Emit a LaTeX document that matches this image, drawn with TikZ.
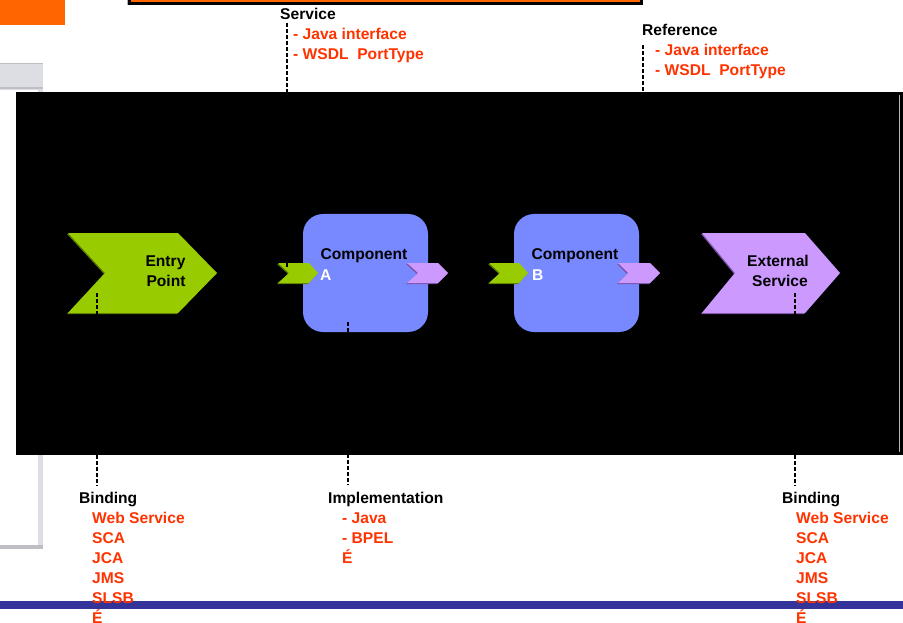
\documentclass[tikz,border=0pt]{standalone}
\usepackage{fontspec}
\setmainfont{Liberation Sans}
\definecolor{slideorange}{RGB}{255,102,0}
\definecolor{entrygreen}{RGB}{153,204,0}
\definecolor{entryshade}{RGB}{90,120,0}
\definecolor{refpurple}{RGB}{204,153,255}
\definecolor{refshade}{RGB}{120,80,160}
\definecolor{compblue}{RGB}{120,137,255}
\definecolor{itemred}{RGB}{255,51,0}
\definecolor{barblue}{RGB}{51,51,153}
\definecolor{panelgray}{RGB}{221,221,228}
\definecolor{paneledge}{RGB}{190,190,196}
\tikzset{
  lbl/.style={font=\fontsize{15.6}{18}\selectfont\bfseries, inner sep=0pt, anchor=base west},
  item/.style={lbl, text=itemred},
  ctr/.style={font=\fontsize{15.6}{18}\selectfont\bfseries, inner sep=0pt, anchor=base},
  dashline/.style={draw=black, line width=1.8pt, dash pattern=on 4pt off 2pt},
  compbox/.style={fill=compblue, rounded corners=20pt, minimum width=125pt, minimum height=118pt, inner sep=0pt},
}
\begin{document}
\begin{tikzpicture}[x=1pt,y=-1pt]
\useasboundingbox (0,0) rectangle (903,623);
\fill[white] (0,0) rectangle (903,623);

% slide furniture
\fill[slideorange] (0,0) rectangle (65,25);
\fill[slideorange] (129,-5) rectangle (641,2);
\draw[black, line width=3pt] (129.5,-10) -- (129.5,3.5) -- (641.5,3.5) -- (641.5,-10);
\draw[gray!60, line width=0.8pt] (127.5,-10) -- (127.5,5);

% side panel
\fill[panelgray] (0,63) rectangle (43,90);
\draw[paneledge, line width=1pt] (0,63.5) -- (43,63.5);
\draw[paneledge, line width=2pt] (0,88.5) -- (43,88.5);
\fill[panelgray] (38,90) rectangle (43,549);
\fill[paneledge] (0,545) rectangle (43,549);

% dark stage
\fill[black] (16,92) rectangle (903,455);
\draw[gray!55, line width=1pt] (899.5,95) -- (899.5,452);

% entry point
\fill[entryshade, shift={(-1,1)}] (68,233) -- (178,233) -- (217,273) -- (178,313) -- (68,313) -- (105,273) -- cycle;
\fill[entrygreen] (68,233) -- (178,233) -- (217,273) -- (178,313) -- (68,313) -- (105,273) -- cycle;
\node[ctr] (entry1) at (165.5,266) {Entry};
\node[ctr] (entry2) at (166,286) {Point};
\coordinate (entryPort) at (97,293);

% external service
\fill[refshade, shift={(-1,1)}] (702,233) -- (805,233) -- (840,273) -- (805,313) -- (702,313) -- (735,273) -- cycle;
\fill[refpurple] (702,233) -- (805,233) -- (840,273) -- (805,313) -- (702,313) -- (735,273) -- cycle;
\node[ctr] (ext1) at (778,266) {External};
\node[ctr] (ext2) at (780,286) {Service};
\coordinate (extPort) at (795,293);

% components
\node[compbox] (compA) at (365.5,273) {};
\node[compbox] (compB) at (576.5,273) {};
\node[ctr] (compAname) at (364,259) {Component};
\node[ctr] (compBname) at (575,259) {Component};
\node[lbl, text=white] (compAid) at (320,280) {A};
\node[lbl, text=white] (compBid) at (532,280) {B};
\coordinate (implPort) at (348,322);

% ports
\fill[entryshade, shift={(-1,1)}] (278,263) -- (309,263) -- (318,273) -- (309,283) -- (278,283) -- (289,273) -- cycle;
\fill[entrygreen] (278,263) -- (309,263) -- (318,273) -- (309,283) -- (278,283) -- (289,273) -- cycle;
\fill[refshade, shift={(-1,1)}] (407,263) -- (438,263) -- (448,273) -- (438,283) -- (407,283) -- (418,273) -- cycle;
\fill[refpurple] (407,263) -- (438,263) -- (448,273) -- (438,283) -- (407,283) -- (418,273) -- cycle;
\fill[entryshade, shift={(-1,1)}] (489,263) -- (519,263) -- (528,273) -- (519,283) -- (489,283) -- (500,273) -- cycle;
\fill[entrygreen] (489,263) -- (519,263) -- (528,273) -- (519,283) -- (489,283) -- (500,273) -- cycle;
\fill[refshade, shift={(-1,1)}] (618,263) -- (650,263) -- (660,273) -- (650,283) -- (618,283) -- (628,273) -- cycle;
\fill[refpurple] (618,263) -- (650,263) -- (660,273) -- (650,283) -- (618,283) -- (628,273) -- cycle;
\coordinate (svcPort) at (287,268);
\coordinate (refPort) at (643,263);

% top labels
\node[lbl] (service) at (280,19.5) {Service};
\node[item] (svc1) at (293,39.5) {- Java interface};
\node[item] (svc2) at (293,59.5) {- WSDL\ \ PortType};
\node[lbl] (reference) at (642,35.5) {Reference};
\node[item] (ref1) at (655,55.5) {- Java interface};
\node[item] (ref2) at (655,75.5) {- WSDL\ \ PortType};

% bottom labels
\node[lbl] (bindL) at (79,503) {Binding};
\node[lbl] (impl) at (328,503) {Implementation};
\node[lbl] (bindR) at (782,503) {Binding};

% connectors
\draw[dashline] ([xshift=7pt,yshift=-3pt]service.south west) -- (svcPort);
\draw[dashline] ([xshift=1pt,yshift=-9pt]reference.south west) -- (refPort);
\draw[dashline] (entryPort) -- ([xshift=18pt,yshift=6pt]bindL.north west);
\draw[dashline] (implPort) -- ([xshift=20pt,yshift=6pt]impl.north west);
\draw[dashline] (extPort) -- ([xshift=13pt,yshift=6pt]bindR.north west);

% footer bar
\fill[barblue] (0,601) rectangle (903,609);

% binding and implementation lists
\foreach \txt [count=\i] in {Web Service,SCA,JCA,JMS,SLSB,É} {
  \node[item] (bl\i) at (92,{503+20*\i}) {\txt};
  \node[item] (br\i) at (796,{503+20*\i}) {\txt};
}
\node[item] (im1) at (342,523) {- Java};
\node[item] (im2) at (342,543) {- BPEL};
\node[item] (im3) at (342,563) {É};
\end{tikzpicture}
\end{document}
